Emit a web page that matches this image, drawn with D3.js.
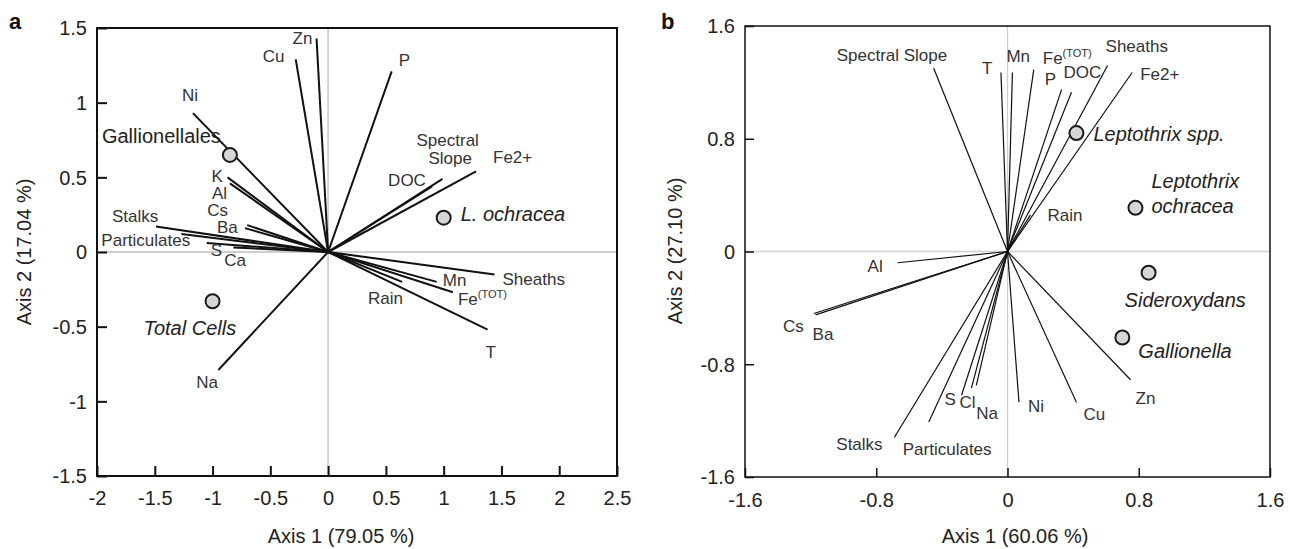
<!DOCTYPE html>
<html><head><meta charset="utf-8">
<script src="https://cdn.jsdelivr.net/npm/d3@7/dist/d3.min.js"></script>
<style>body{margin:0;background:#fff}svg{display:block}text{font-family:"Liberation Sans",Arial,Helvetica,sans-serif}</style>
</head><body>
<svg id="c" width="1290" height="549"></svg>
<script>
// ---------------- DATA ----------------
// Panel a
const aXTicks = [-2, -1.5, -1, -0.5, 0, 0.5, 1, 1.5, 2, 2.5];
const aYTicks = [-1.5, -1, -0.5, 0, 0.5, 1, 1.5];
const aVarNames = ["Zn","Cu","P","Ni","K","Al","Cs","Ba","Stalks","Particulates","S","Ca","Na","Spectral Slope","DOC","Fe2+","Sheaths","Mn","Fe(TOT)","Rain","T"];
const aVarX = [-0.10,-0.28,0.55,-1.17,-0.87,-0.85,-0.70,-0.72,-1.49,-1.27,-1.05,-0.82,-0.95,0.99,0.90,1.28,1.44,0.94,1.08,0.64,1.38];
const aVarY = [1.43,1.29,1.21,0.93,0.50,0.46,0.18,0.16,0.17,0.12,0.06,0.03,-0.79,0.49,0.44,0.54,-0.15,-0.20,-0.27,-0.20,-0.52];
const aPtNames = ["Gallionellales","Total Cells","L. ochracea"];
const aPtX = [-0.85,-1.00,1.00];
const aPtY = [0.65,-0.33,0.23];

// Panel b
const bTicks = [-1.6, -0.8, 0, 0.8, 1.6];
const bVarNames = ["Spectral Slope","T","Mn","Fe(TOT)","P","DOC","Sheaths","Fe2+","Rain","Al","Cs","Ba","Stalks","Particulates","S","Cl","Na","Ni","Cu","Zn"];
const bVarX = [-0.45,-0.04,0.03,0.16,0.33,0.39,0.61,0.76,0.14,-0.67,-1.18,-1.17,-0.69,-0.48,-0.28,-0.22,-0.19,0.07,0.42,0.75];
const bVarY = [1.30,1.27,1.27,1.29,1.15,1.13,1.32,1.27,0.26,-0.08,-0.44,-0.45,-1.32,-1.21,-1.02,-0.97,-0.95,-1.07,-1.07,-0.91];
const bPtNames = ["Leptothrix spp.","Leptothrix ochracea","Sideroxydans","Gallionella"];
const bPtX = [0.42,0.78,0.86,0.70];
const bPtY = [0.84,0.31,-0.15,-0.61];

// ---------------- LAYOUT (label offsets in px from mark) ----------------
const aLab = {"Zn":[-24,6],"Cu":[-33,3],"P":[7,-5],"Ni":[-11,-12],"K":[-16,5],"Al":[-18,16],"Cs":[-40,-9],"Ba":[-28,5],
  "Stalks":[-44,-5],"Particulates":[-80,12],"S":[4,13],"Ca":[-9,18],"Na":[-22,18],"Spectral Slope":[-26,-33],"DOC":[-44,0],
  "Fe2+":[17,-8],"Sheaths":[8,11],"Mn":[6,4],"Fe(TOT)":[5,13],"Rain":[-34,22],"T":[-2,28]};
const aPtLab = {"Gallionellales":[-128,-12,false],"Total Cells":[-69,34,true],"L. ochracea":[17,3,true]};
const bLab = {"Spectral Slope":[-97,-7],"T":[-19,1],"Mn":[-6,-11],"Fe(TOT)":[9,-6],"P":[-17,-4],"DOC":[-8,-14],"Sheaths":[-2,-13],
  "Fe2+":[8,7],"Rain":[17,6],"Al":[-30,9],"Cs":[-31,18],"Ba":[-3,25],"Stalks":[-58,12],"Particulates":[-26,33],"S":[-17,10],
  "Cl":[-12,20],"Na":[0,34],"Ni":[9,10],"Cu":[7,18],"Zn":[5,24]};
const bPtLab = {"Leptothrix spp.":[17,8],"Leptothrix ochracea":[16,-20],"Sideroxydans":[-24,34],"Gallionella":[16,21]};

const svg = d3.select("#c");
const fmt = d => String(d);

function panel(o) {
  const g = svg.append("g");
  const x = d3.scaleLinear().domain(o.xd).range([o.l, o.r]);
  const y = d3.scaleLinear().domain(o.yd).range([o.b, o.t]);
  // zero lines
  g.append("line").attr("x1", x(0)).attr("x2", x(0)).attr("y1", o.t).attr("y2", o.b)
    .attr("stroke", "#cfcfcf").attr("stroke-width", o.zw);
  g.append("line").attr("x1", o.l).attr("x2", o.r).attr("y1", y(0)).attr("y2", y(0))
    .attr("stroke", "#cfcfcf").attr("stroke-width", o.zw);
  // vectors
  o.names.forEach((n, i) => {
    g.append("line").attr("x1", x(0)).attr("y1", y(0)).attr("x2", x(o.vx[i])).attr("y2", y(o.vy[i]))
      .attr("stroke", "#111").attr("stroke-width", o.lw);
  });
  // axes
  const ax = g.append("g").attr("transform", `translate(0,${o.b})`)
    .call(d3.axisBottom(x).tickValues(o.xt).tickFormat(fmt).tickSizeInner(-o.tk).tickSizeOuter(0).tickPadding(o.xpad));
  const ay = g.append("g").attr("transform", `translate(${o.l},0)`)
    .call(d3.axisLeft(y).tickValues(o.yt).tickFormat(fmt).tickSizeInner(-o.tk).tickSizeOuter(0).tickPadding(10));
  [ax, ay].forEach(a => {
    a.select(".domain").remove();
    a.selectAll("line").attr("stroke", "#111").attr("stroke-width", o.fw);
    a.selectAll("text").attr("font-size", 20).attr("fill", "#222").attr("font-family", '"Liberation Sans",Arial,sans-serif');
  });
  ay.selectAll("text").attr("dy", "0.34em");
  // frame
  g.append("rect").attr("x", o.l).attr("y", o.t).attr("width", o.r - o.l).attr("height", o.b - o.t)
    .attr("fill", "none").attr("stroke", "#111").attr("stroke-width", o.fw);
  // variable labels
  o.names.forEach((n, i) => {
    const off = o.lab[n]; if (!off) return;
    const px = x(o.vx[i]) + off[0], py = y(o.vy[i]) + off[1];
    const t = g.append("text").attr("x", px).attr("y", py).attr("font-size", 17).attr("fill", "#333");
    if (n === "Fe(TOT)") {
      t.append("tspan").text("Fe");
      t.append("tspan").attr("font-size", 11).attr("dy", -7).text("(TOT)");
    } else if (n === "Spectral Slope" && o.split) {
      t.append("tspan").attr("x", px).text("Spectral");
      t.append("tspan").attr("x", px + 12).attr("dy", 18).text("Slope");
    } else t.text(n);
  });
  // points
  o.pn.forEach((n, i) => {
    g.append("circle").attr("cx", x(o.px[i])).attr("cy", y(o.py[i])).attr("r", 7)
      .attr("fill", "#d6d6d6").attr("stroke", "#1a1a1a").attr("stroke-width", 2);
    const off = o.plab[n];
    const lx = x(o.px[i]) + off[0], ly = y(o.py[i]) + off[1];
    const italic = off.length > 2 ? off[2] : true;
    const t = g.append("text").attr("x", lx).attr("y", ly).attr("font-size", 20).attr("fill", "#222")
      .attr("font-style", italic ? "italic" : "normal");
    if (n === "Leptothrix ochracea") {
      t.append("tspan").attr("x", lx).text("Leptothrix");
      t.append("tspan").attr("x", lx).attr("dy", 25).text("ochracea");
    } else t.text(n);
  });
  // titles
  g.append("text").attr("x", o.xtx).attr("y", 543).attr("text-anchor", "middle").attr("font-size", 20).attr("fill", "#222").text(o.xtitle);
  g.append("text").attr("transform", `translate(${o.ytx},${o.yty}) rotate(-90)`).attr("text-anchor", "middle")
    .attr("font-size", 20).attr("fill", "#222").text(o.ytitle);
  g.append("text").attr("x", o.tagx).attr("y", 29).attr("font-size", 22).attr("font-weight", "bold").attr("fill", "#111").text(o.tag);
}

panel({xd: [-2, 2.5], yd: [-1.5, 1.5], l: 97, r: 617, t: 28, b: 476, xt: aXTicks, yt: aYTicks, tk: 10, xpad: 15,
  zw: 1.8, lw: 2, fw: 2, names: aVarNames, vx: aVarX, vy: aVarY, lab: aLab, split: true,
  pn: aPtNames, px: aPtX, py: aPtY, plab: aPtLab, xtitle: "Axis 1 (79.05 %)", xtx: 341,
  ytitle: "Axis 2 (17.04 %)", ytx: 31, yty: 252, tag: "a", tagx: 9});
panel({xd: [-1.6, 1.6], yd: [-1.6, 1.6], l: 745, r: 1270, t: 26, b: 477, xt: bTicks, yt: bTicks, tk: 9, xpad: 16,
  zw: 1.3, lw: 1.2, fw: 1.5, names: bVarNames, vx: bVarX, vy: bVarY, lab: bLab, split: false,
  pn: bPtNames, px: bPtX, py: bPtY, plab: bPtLab, xtitle: "Axis 1 (60.06 %)", xtx: 1015,
  ytitle: "Axis 2 (27.10 %)", ytx: 682, yty: 251, tag: "b", tagx: 661});
</script>
</body></html>
